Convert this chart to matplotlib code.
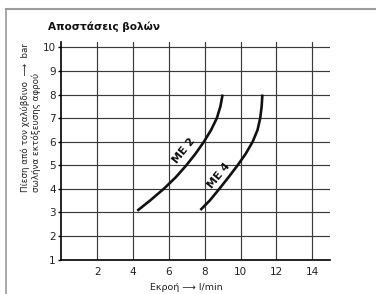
"""Apostaseis bolon chart: pressure vs flow for ME 2 / ME 4 nozzles."""
import matplotlib
matplotlib.use("Agg")
import matplotlib.pyplot as plt
from matplotlib.lines import Line2D

NARROW = ["Liberation Sans Narrow", "DejaVu Sans"]
GRID = "#3a3a3a"
FRAME = "#9a9a9a"

me2_flow = [4.24, 4.95, 5.72, 6.4, 6.98, 7.5, 7.96, 8.36, 8.68, 8.88, 9.0]
me2_press = [3.07, 3.5, 4.0, 4.5, 5.0, 5.5, 6.0, 6.5, 7.0, 7.5, 8.0]
me4_flow = [7.76, 8.28, 8.82, 9.34, 9.84, 10.3, 10.68, 10.95, 11.1, 11.18, 11.22]
me4_press = [3.1, 3.5, 4.0, 4.5, 5.0, 5.5, 6.0, 6.5, 7.0, 7.5, 8.0]
x_ticks = [2, 4, 6, 8, 10, 12, 14]
y_ticks = [1, 2, 3, 4, 5, 6, 7, 8, 9, 10]

fig = plt.figure(figsize=(3.76, 2.94), dpi=100)
fig.patch.set_facecolor("white")
ax = fig.add_axes([0.163, 0.1173, 0.878 - 0.163, 0.858 - 0.1173])

ax.set_xlim(0, 15)
ax.set_ylim(1, 10.24)
ax.set_xticks(x_ticks)
ax.set_yticks(y_ticks)
ax.grid(True, color=GRID, lw=0.85)
ax.set_axisbelow(True)
for s in ("top", "right"):
    ax.spines[s].set_visible(False)
for s in ("left", "bottom"):
    ax.spines[s].set_linewidth(1.2)
    ax.spines[s].set_color("black")

ax.tick_params(axis="x", length=0, pad=5.5, labelsize=7.5)
ax.tick_params(axis="y", direction="out", length=2.5, width=1, pad=1.5, labelsize=7.5)
for lab in ax.get_xticklabels() + ax.get_yticklabels():
    lab.set_family(NARROW)
    lab.set_color("#222222")

ax.plot(me2_flow, me2_press, color="#111111", lw=1.9, solid_capstyle="butt")
ax.plot(me4_flow, me4_press, color="#111111", lw=1.9, solid_capstyle="butt")
ax.text(6.85, 5.62, "ME 2", rotation=51, ha="center", va="center",
        fontsize=7.8, fontweight="bold", color="#111111")
ax.text(8.8, 4.56, "ME 4", rotation=51, ha="center", va="center",
        fontsize=7.8, fontweight="bold", color="#111111")

fig.text(48 / 376, 1 - 26.5 / 294, "Αποστάσεις βολών", ha="left", va="center",
         fontsize=7.6, fontweight="bold", color="#111111")
fig.text(31 / 376, 1 - 192 / 294,
         "Πίεση από τον χαλύβδινο  ⟶  bar\nσωλήνα εκτόξευσης αφρού",
         rotation=90, ha="center", va="bottom", multialignment="left",
         fontsize=6.3, family=NARROW, color="#222222", linespacing=1.15)
fig.text(186 / 376, 1 - 287 / 294, "Εκροή ⟶ l/min", ha="center", va="center",
         fontsize=6.8, family=NARROW, color="#222222")

# outer frame (top + left)
fig.add_artist(Line2D([6 / 376, 1], [1 - 9 / 294, 1 - 9 / 294],
                      transform=fig.transFigure, color=FRAME, lw=1.5))
fig.add_artist(Line2D([6 / 376, 6 / 376], [0, 1 - 9 / 294],
                      transform=fig.transFigure, color=FRAME, lw=1.2))

fig.savefig("out.png", dpi=100, facecolor="white")
